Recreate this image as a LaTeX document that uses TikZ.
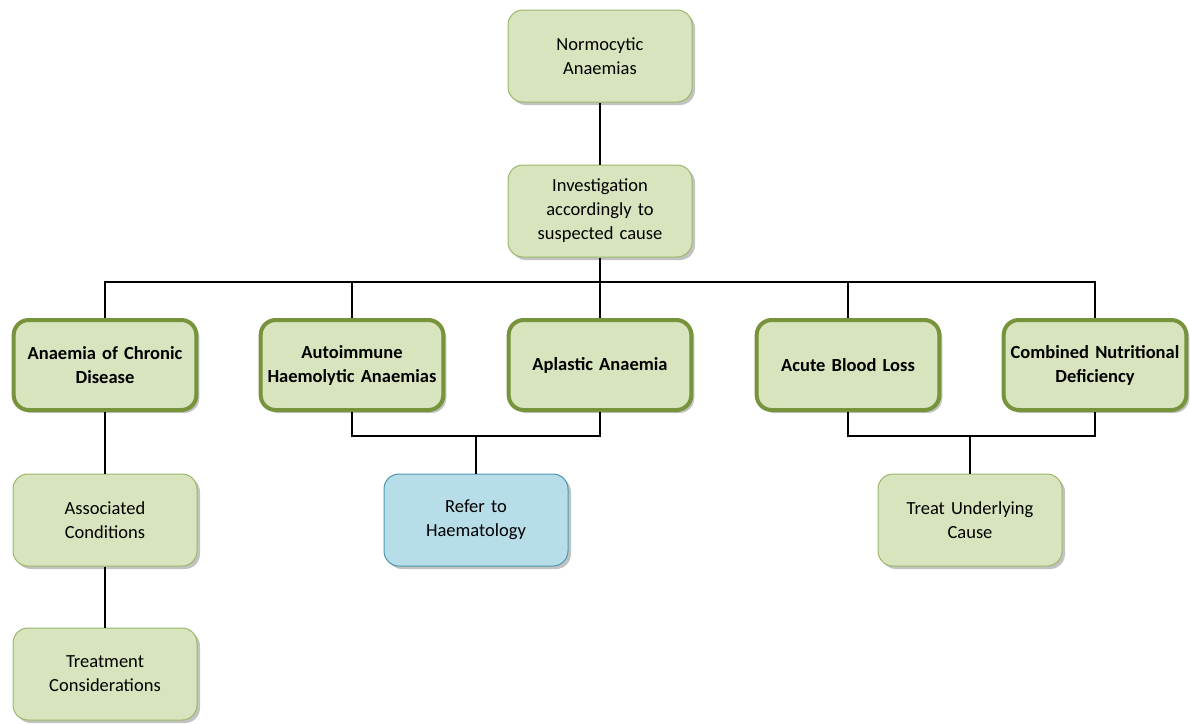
\documentclass[tikz,border=0pt]{standalone}
\usepackage{fontspec}
\setmainfont{Carlito}
\usetikzlibrary{shadows}

\definecolor{leaf}{HTML}{D7E4BD}
\definecolor{leafline}{HTML}{9BB86A}
\definecolor{leafdark}{HTML}{77933C}
\definecolor{sky}{HTML}{B7DEE8}
\definecolor{skyline}{HTML}{4A98AE}

\begin{document}
\begin{tikzpicture}[x=1pt,y=-1pt,
    font=\fontsize{18.5}{24}\selectfont,
    box/.style={draw=leafline, fill=leaf, line width=1pt, rounded corners=15pt,
      minimum width=184pt, minimum height=92pt, text width=176pt, align=center,
      drop shadow={shadow xshift=3pt, shadow yshift=-3pt, opacity=0.4, fill=black!60}},
    causebox/.style={box, draw=leafdark, line width=4pt, font=\fontsize{18.5}{24}\selectfont\bfseries,
      minimum width=181pt, minimum height=90pt},
    referbox/.style={box, draw=skyline, fill=sky},
    link/.style={line width=1.4pt}]
  \useasboundingbox (0,0) rectangle (1190,723);

  % Top
  \node[box] (norm) at (600,56) {Normocytic\\Anaemias};
  \node[box] (inv) at (600,211) {Investigation\\accordingly to\\suspected cause};

  % Causes
  \node[causebox] (acd) at (105,365) {Anaemia of Chronic\\Disease};
  \node[causebox] (aiha) at (352,365) {Autoimmune\\Haemolytic Anaemias};
  \node[causebox] (apl) at (600,365) {Aplastic Anaemia};
  \node[causebox] (abl) at (848,365) {Acute Blood Loss};
  \node[causebox] (cnd) at (1095,365) {Combined Nutritional\\Deficiency};

  % Follow up
  \node[box] (assoc) at (105,520) {Associated\\Conditions};
  \node[box] (treat) at (105,674) {Treatment\\Considerations};
  \node[referbox] (ref) at (476,520) {Refer to\\Haematology};
  \node[box] (under) at (970,520) {Treat Underlying\\Cause};

  % Lines
  \coordinate (bus) at (600,282);
  \coordinate (joinA) at (476,436);
  \coordinate (joinB) at (970,436);
  \begin{scope}[link]
    \draw (norm) -- (inv);
    \draw (inv) -- (bus);
    \foreach \n in {acd,aiha,apl,abl,cnd}
      \draw (bus) -| (\n.north);
    \draw (acd) -- (assoc);
    \draw (assoc) -- (treat);
    \draw (aiha.south) |- (joinA) -| (apl.south);
    \draw (joinA) -- (ref);
    \draw (abl.south) |- (joinB) -| (cnd.south);
    \draw (joinB) -- (under);
  \end{scope}
\end{tikzpicture}
\end{document}
